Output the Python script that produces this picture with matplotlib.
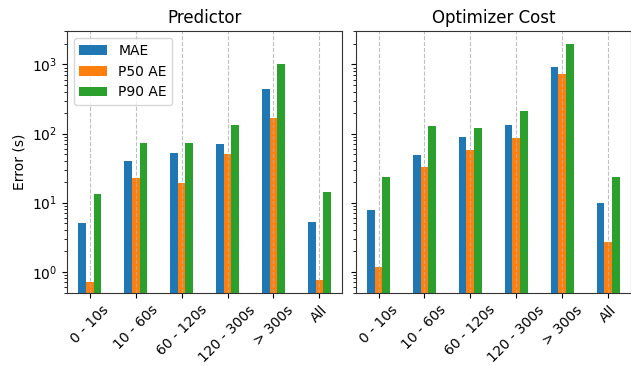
import matplotlib
matplotlib.use("Agg")
import matplotlib.pyplot as plt
import numpy as np

categories = ["0 - 10s", "10 - 60s", "60 - 120s", "120 - 300s", "> 300s", "All"]
series_names = ["MAE", "P50 AE", "P90 AE"]

predictor_mae = [5.07, 39.5, 51.5, 69.5, 444, 5.24]
predictor_p50 = [0.72, 22.7, 19.1, 49.9, 170, 0.75]
predictor_p90 = [13.3, 71.8, 71.8, 134, 1016, 14.2]

optimizer_mae = [7.8, 48.2, 90.5, 134, 920, 9.84]
optimizer_p50 = [1.18, 32.4, 56.9, 87.6, 730, 2.70]
optimizer_p90 = [23.3, 130, 122, 214, 1972, 23.3]

titles = ["Predictor", "Optimizer Cost"]
colors = ["#1f77b4", "#ff7f0e", "#2ca02c"]

fig, axes = plt.subplots(1, 2, figsize=(6.31, 3.66), dpi=100, sharey=True)
fig.subplots_adjust(left=0.106, right=1.0, top=0.915, bottom=0.199, wspace=0.048)

data = [[predictor_mae, predictor_p50, predictor_p90],
        [optimizer_mae, optimizer_p50, optimizer_p90]]

x = np.arange(len(categories))
width = 0.5 / 3
for ax, title, series in zip(axes, titles, data):
    for i, (vals, name, c) in enumerate(zip(series, series_names, colors)):
        ax.bar(x + (i - 1) * width, vals, width, color=c, label=name)
    ax.set_yscale("log")
    ax.set_xlim(-0.5, len(categories) - 0.5)
    ax.set_xticks(x)
    ax.set_xticklabels(categories, rotation=45)
    ax.set_title(title, fontsize=12)
    ax.grid(axis="x", linestyle="--", color="#b0b0b0", alpha=0.8)
    for s in ax.spines.values():
        s.set_color("#333333")

axes[0].set_ylim(0.49, 3034)
axes[0].set_ylabel("Error (s)")
axes[0].legend(loc="upper left")

fig.savefig("out.png", dpi=100)
